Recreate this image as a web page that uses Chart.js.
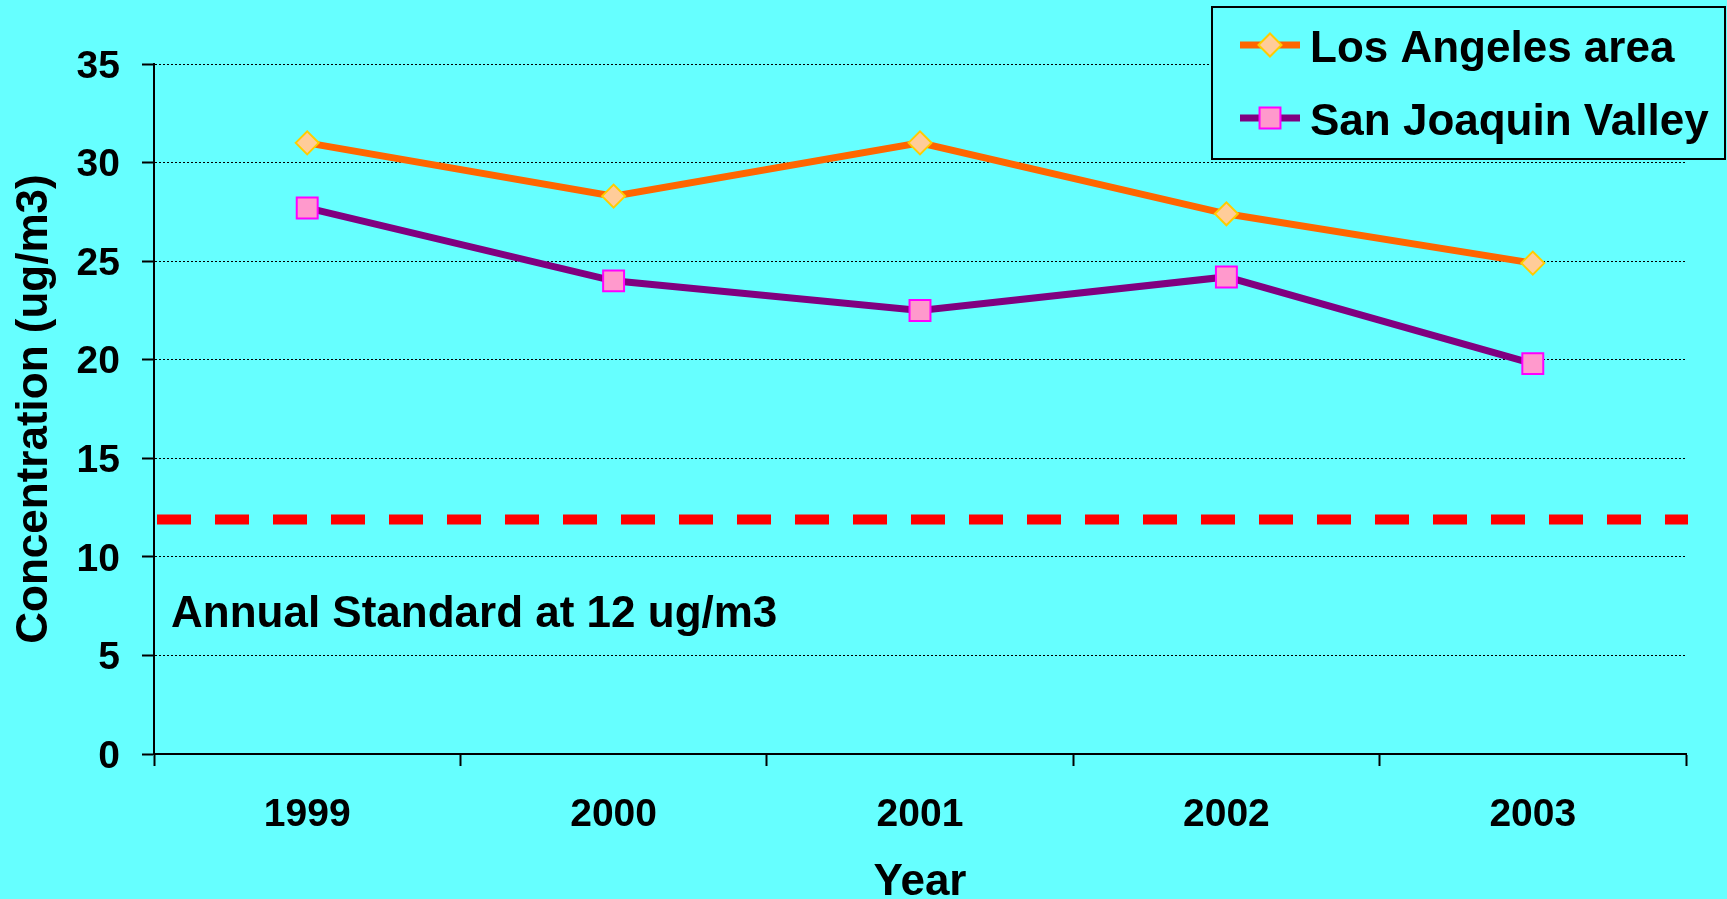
<!DOCTYPE html>
<html>
<head>
<meta charset="utf-8">
<title>PM2.5 annual concentration</title>
<script src="https://cdn.jsdelivr.net/npm/chart.js@4.4.1/dist/chart.umd.min.js"></script>
<style>
  html, body { margin: 0; padding: 0; background: #66FFFF; }
  #wrap { width: 1727px; height: 899px; }
</style>
</head>
<body>
<div id="wrap"><canvas id="pmChart" width="1727" height="899"></canvas></div>
<script>
// data
const years = ["1999", "2000", "2001", "2002", "2003"];
const losAngeles = [31.0, 28.3, 31.0, 27.4, 24.9];
const sanJoaquin = [27.7, 24.0, 22.5, 24.2, 19.8];
const seriesNames = ["Los Angeles area", "San Joaquin Valley"];
const standardValue = 11.9;
const standardLabel = "Annual Standard at 12 ug/m3";

const FONT = "'Liberation Sans', Arial, sans-serif";

// dashed standard line + note text
const standardPlugin = {
    id: "standard",
    beforeDatasetsDraw(chart) {
        const { ctx, chartArea, scales } = chart;
        const y = scales.y.getPixelForValue(standardValue);
        ctx.save();
        ctx.strokeStyle = "#FF0000";
        ctx.lineWidth = 10;
        ctx.setLineDash([34, 24]);
        ctx.beginPath();
        ctx.moveTo(chartArea.left + 3, y);
        ctx.lineTo(chartArea.right + 2, y);
        ctx.stroke();
        ctx.setLineDash([]);
        ctx.fillStyle = "#000";
        ctx.font = "bold 44px " + FONT;
        ctx.textBaseline = "alphabetic";
        ctx.textAlign = "left";
        ctx.fillText(standardLabel, chartArea.left + 17, y + 108);
        ctx.restore();
    },
};

// legend box with line + marker, like the original
const boxLegend = {
    id: "boxLegend",
    afterDraw(chart) {
        const { ctx } = chart;
        ctx.save();
        ctx.fillStyle = "#66FFFF";
        ctx.fillRect(1212, 7, 513, 152);
        ctx.strokeStyle = "#000";
        ctx.lineWidth = 2;
        ctx.strokeRect(1212, 7, 513, 152);
        chart.data.datasets.forEach((ds, i) => {
            const y = 45 + i * 73;
            ctx.strokeStyle = ds.borderColor;
            ctx.lineWidth = ds.borderWidth;
            ctx.beginPath();
            ctx.moveTo(1240, y);
            ctx.lineTo(1300, y);
            ctx.stroke();
            ctx.fillStyle = ds.pointBackgroundColor;
            ctx.strokeStyle = ds.pointBorderColor;
            ctx.lineWidth = ds.pointBorderWidth;
            Chart.helpers.drawPoint(ctx, {
                pointStyle: ds.pointStyle,
                radius: ds.pointRadius,
                rotation: 0,
                borderWidth: ds.pointBorderWidth,
            }, 1270, y);
            ctx.fillStyle = "#000";
            ctx.font = "bold 44px " + FONT;
            ctx.textAlign = "left";
            ctx.textBaseline = "middle";
            ctx.fillText(ds.label, 1310, y + 5);
        });
        ctx.restore();
    },
};

const ctx = document.getElementById("pmChart").getContext("2d");
const pmChart = new Chart(ctx, {
    type: "line",
    data: {
        labels: years,
        datasets: [
            {
                label: seriesNames[0],
                data: losAngeles,
                borderColor: "#FF6600",
                borderWidth: 7,
                pointStyle: "rectRot",
                pointRadius: 11.5,
                pointBackgroundColor: "#FFCC99",
                pointBorderColor: "#FFCC00",
                pointBorderWidth: 2,
                tension: 0,
            },
            {
                label: seriesNames[1],
                data: sanJoaquin,
                borderColor: "#800080",
                borderWidth: 7,
                pointStyle: "rect",
                pointRadius: 14.8,
                pointBackgroundColor: "#FF99CC",
                pointBorderColor: "#FF00FF",
                pointBorderWidth: 2,
                tension: 0,
            },
        ],
    },
    options: {
        responsive: false,
        animation: false,
        layout: { padding: { top: 64, right: 41, left: 0, bottom: 0 } },
        plugins: {
            legend: { display: false },
            tooltip: { enabled: false },
        },
        scales: {
            x: {
                offset: true,
                grid: {
                    offset: true,
                    drawOnChartArea: false,
                    drawTicks: true,
                    tickLength: 12,
                    tickColor: "#000",
                    tickWidth: 2,
                },
                border: { color: "#000", width: 2 },
                ticks: {
                    color: "#000",
                    padding: 26,
                    font: { family: FONT, size: 39, weight: "bold" },
                },
                title: {
                    display: true,
                    text: "Year",
                    color: "#000",
                    font: { family: FONT, size: 44, weight: "bold", lineHeight: 0.75 },
                    padding: { top: 0, bottom: 0 },
                },
                afterFit(scale) { scale.height = 145; },
            },
            y: {
                min: 0,
                max: 35,
                ticks: {
                    stepSize: 5,
                    color: "#000",
                    padding: 22,
                    labelOffset: 3,
                    font: { family: FONT, size: 39, weight: "bold" },
                },
                grid: {
                    color: "#000",
                    lineWidth: 1,
                    drawTicks: true,
                    tickLength: 12,
                    tickColor: "#000",
                    tickWidth: 2,
                    tickBorderDash: [],
                },
                border: { color: "#000", width: 2, dash: [2, 2] },
                title: {
                    display: true,
                    text: "Concentration (ug/m3)",
                    color: "#000",
                    font: { family: FONT, size: 44, weight: "bold" },
                    padding: { top: 8, bottom: 0 },
                },
                afterFit(scale) { scale.width = 154; },
            },
        },
    },
    plugins: [standardPlugin, boxLegend],
});
</script>
</body>
</html>
